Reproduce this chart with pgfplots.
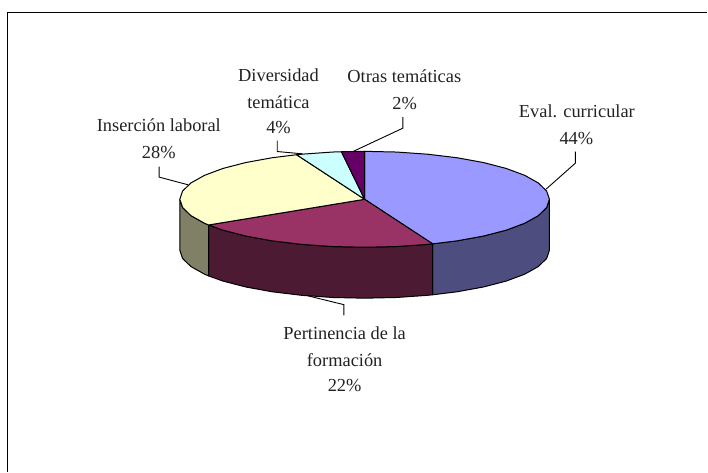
\documentclass[border=0pt]{standalone}
\usepackage{pgfplots}
\pgfplotsset{compat=1.18}
\usepackage{fontspec}
\setmainfont{Liberation Serif}
\definecolor{cBlue}{HTML}{9999FF}
\definecolor{cBlueD}{HTML}{4D4D80}
\definecolor{cMar}{HTML}{993366}
\definecolor{cMarD}{HTML}{4D1A33}
\definecolor{cYel}{HTML}{FFFFCC}
\definecolor{cYelD}{HTML}{808066}
\definecolor{cCya}{HTML}{CCFFFF}
\definecolor{cPur}{HTML}{660066}
\definecolor{cTxt}{HTML}{222222}
\tikzset{lab/.style={font=\fontsize{18.4}{20}\selectfont,anchor=base,text=cTxt,inner sep=0pt}}
\begin{document}
\begin{tikzpicture}[x=1pt,y=1pt]
\path (0,0) rectangle (708,472);
\begin{axis}[at={(0,0)},anchor=south west,width=708pt,height=472pt,scale only axis,
  xmin=0,xmax=708,ymin=0,ymax=472,y dir=reverse,hide axis,clip=false,
  every axis plot/.append style={line width=1pt,line join=round}]
% frame
\addplot[draw=black,line width=1.5pt,mark=none] coordinates {(7.5,472)(7.5,12.5)(708,12.5)};
% sides
\addplot[fill=cBlueD,draw=black] coordinates {(550,199.5)(547.2,207.8)(538.8,215.9)(525.2,223.5)(506.7,230.4)(483.9,236.3)(457.5,241.1)(433.1,244.1)(433.1,295.1)(457.5,292.1)(483.9,287.3)(506.7,281.4)(525.2,274.5)(538.8,266.9)(547.2,258.8)(550,250.5)} --cycle;
\addplot[fill=cMarD,draw=black] coordinates {(433.1,244.1)(428.3,244.6)(397.1,246.8)(365,247.5)(332.9,246.8)(301.7,244.6)(272.5,241.1)(246.1,236.3)(223.3,230.4)(208.8,225.2)(208.8,276.2)(223.3,281.4)(246.1,287.3)(272.5,292.1)(301.7,295.6)(332.9,297.8)(365,298.5)(397.1,297.8)(428.3,295.6)(433.1,295.1)} --cycle;
\addplot[fill=cYelD,draw=black] coordinates {(208.8,225.2)(204.8,223.5)(191.2,215.9)(182.8,207.8)(180,199.5)(180,250.5)(182.8,258.8)(191.2,266.9)(204.8,274.5)(208.8,276.2)} --cycle;
% tops
\addplot[fill=cBlue,draw=black] coordinates {(365,199.5)(365,151.5)(397.1,152.2)(428.3,154.4)(457.5,157.9)(483.9,162.7)(506.7,168.6)(525.2,175.5)(538.8,183.1)(547.2,191.2)(550,199.5)(547.2,207.8)(538.8,215.9)(525.2,223.5)(506.7,230.4)(483.9,236.3)(457.5,241.1)(433.1,244.1)} --cycle;
\addplot[fill=cMar,draw=black] coordinates {(365,199.5)(433.1,244.1)(428.3,244.6)(397.1,246.8)(365,247.5)(332.9,246.8)(301.7,244.6)(272.5,241.1)(246.1,236.3)(223.3,230.4)(208.8,225.2)} --cycle;
\addplot[fill=cYel,draw=black] coordinates {(365,199.5)(208.8,225.2)(204.8,223.5)(191.2,215.9)(182.8,207.8)(180,199.5)(182.8,191.2)(191.2,183.1)(204.8,175.5)(223.3,168.6)(246.1,162.7)(272.5,157.9)(296.9,154.9)} --cycle;
\addplot[fill=cCya,draw=black] coordinates {(365,199.5)(296.9,154.9)(301.7,154.4)(332.9,152.2)(341.8,151.9)} --cycle;
\addplot[fill=cPur,draw=black] coordinates {(365,199.5)(341.8,151.9)(365,151.5)} --cycle;
% leaders
\addplot[draw=black,line width=0.9pt] coordinates {(403.3,117.3)(403.3,128.3)(353.3,151.7)};
\addplot[draw=black,line width=0.9pt] coordinates {(576,151.7)(576,163.3)(546.7,189.3)};
\addplot[draw=black,line width=0.9pt] coordinates {(344.3,315.7)(344.3,305)(307.7,296)};
\addplot[draw=black,line width=0.9pt] coordinates {(277.5,140.7)(277.5,151.7)(303,154)};
\addplot[draw=black,line width=0.9pt] coordinates {(159.3,166.7)(159.3,177.3)(188.3,185)};
% labels
\node[lab] at (axis cs:404.7,83) {Otras temáticas};
\node[lab] at (axis cs:405,109.5) {2\%};
\node[lab] at (axis cs:577.5,117.5) {Eval. curricular};
\node[lab] at (axis cs:577,145) {44\%};
\node[lab] at (axis cs:278.8,82) {Diversidad};
\node[lab] at (axis cs:278.8,108.5) {temática};
\node[lab] at (axis cs:278.8,133.5) {4\%};
\node[lab] at (axis cs:159,132) {Inserción laboral};
\node[lab] at (axis cs:159,159) {28\%};
\node[lab] at (axis cs:345,340) {Pertinencia de la};
\node[lab] at (axis cs:345,367.3) {formación};
\node[lab] at (axis cs:345,392.3) {22\%};
\end{axis}
\end{tikzpicture}
\end{document}
